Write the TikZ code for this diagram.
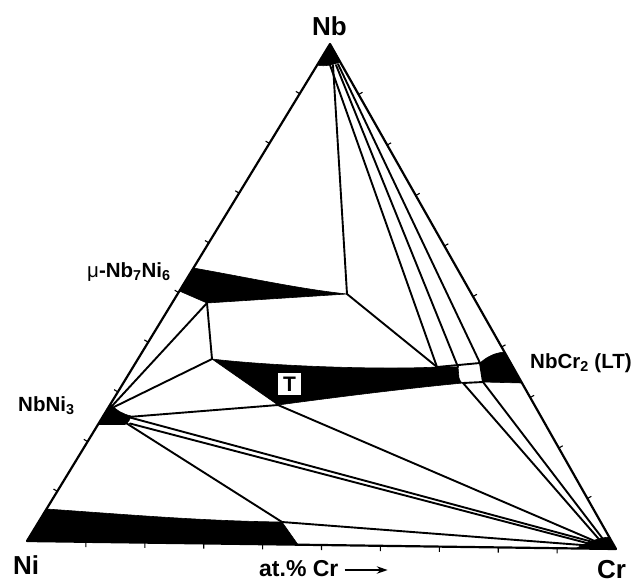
\documentclass[tikz,border=0pt]{standalone}
\usepackage{fontspec}
\setmainfont{Liberation Sans}
\usetikzlibrary{calc,arrows.meta}
\begin{document}
\begin{tikzpicture}[x=1pt,y=-1pt,
  tie/.style={line width=1.9pt, line cap=round, line join=round},
  phase/.style={fill=black, draw=black, line width=0.6pt, line join=round},
  edge/.style={line width=2.2pt, line join=round},
  tickmark/.style={line width=1.1pt},
  lbl/.style={font=\bfseries, inner sep=0pt, anchor=base west},
]
\useasboundingbox (0,0) rectangle (634,582);

% corners of the Gibbs triangle
\coordinate (Ni) at (27,541);
\coordinate (Cr) at (616,549);
\coordinate (Nb) at (330,44);

% invariant points and phase-field corners
\coordinate (P)  at (347,294);   % tip of mu field
\coordinate (M1) at (193.4,268);
\coordinate (M2) at (179.4,291);
\coordinate (M3) at (207,303);
\coordinate (P2) at (212,359);   % left tip of T field
\coordinate (U)  at (278,405);   % lower tip of T field
\coordinate (Q)  at (437,367);
\coordinate (R)  at (458,367);
\coordinate (S)  at (480,363);
\coordinate (X)  at (463,383);
\coordinate (Y)  at (483,382);
\coordinate (V)  at (282,522);
\coordinate (W)  at (298,544.7);
\coordinate (CrIn) at (604,545);

% tie lines from the Nb corner
\draw[tie] (333,65) -- (P);
\draw[tie] (330,65) -- (Q);
\draw[tie] (336,65) -- (R);
\draw[tie] (338,64) -- (S);

% mu field boundaries
\draw[tie] (M3) -- (P2);
\draw[tie] (P) -- (Q);

% lines from NbNi3
\draw[tie] (112,406) -- (M3);
\draw[tie] (114,407) -- (P2);
\draw[tie] (128,417) -- (U);
\draw[tie] (130,417.5) -- (CrIn);
\draw[tie] (130,423.5) -- (604,547.5);
\draw[tie] (126,423) -- (V);

% lines into the Cr corner
\draw[tie] (U) -- (CrIn);
\draw[tie] (V) -- (595,546);
\draw[tie] (X) -- (CrIn);
\draw[tie] (Y) -- (606,543);

% small two-phase window between T and NbCr2
\draw[tie] (Q) -- (S) -- (Y) -- (X);

% single-phase fields
\fill[phase] (Nb) -- (317.2,65) .. controls (325,67) and (333,64.5) .. (340.2,62) -- cycle;
\fill[phase] (M1) .. controls (250,278) and (300,289) .. (P) -- (M3) -- (M2) -- cycle;
\fill[phase] (P2) .. controls (270,366) and (380,370) .. (Q) -- (R)
   -- (459,378) .. controls (460,381) and (461,383) .. (X)
   .. controls (400,389) and (330,398) .. (U) -- cycle;
\fill[phase] (S) .. controls (488,356) and (495,353) .. (504.4,352) -- (522,383) -- (Y) -- cycle;
\fill[phase] (110.5,404) .. controls (117,411) and (123,414) .. (131,416)
   .. controls (130,419) and (129,422) .. (125,424.5) -- (98,424.5) -- cycle;
\fill[phase] (Ni) -- (46.5,509) .. controls (120,514) and (200,521) .. (V) -- (W) -- cycle;
\fill[phase] (576,548.5) .. controls (588,542) and (598,538) .. (609.2,537) -- (Cr) -- cycle;

% triangle and its scale marks
\draw[edge] (Ni) -- (Nb) -- (Cr) -- cycle;
\foreach \k in {1,...,9} {
  \draw[tickmark] ($(Ni)!\k/10!(Nb)$) -- ++(-3.8,-2.3);
  \draw[tickmark] ($(Cr)!\k/10!(Nb)$) -- ++(3.9,-2.2);
  \draw[tickmark] ($(Ni)!\k/10!(Cr)$) -- ++(0.05,5.2);
}

% labels
\node[lbl, font=\bfseries\fontsize{26}{26}\selectfont] (lNb) at (312,35) {Nb};
\node[lbl, font=\bfseries\fontsize{26}{26}\selectfont] (lNi) at (13,574) {Ni};
\node[lbl, font=\bfseries\fontsize{26}{26}\selectfont] (lCr) at (597,578) {Cr};
\node[lbl, font=\bfseries\fontsize{23}{23}\selectfont] (lat) at (259,576) {at.\% Cr};
\draw[line width=1.4pt, -{Stealth[length=11pt,width=7.5pt]}] ($(lat.base east)+(6,-6)$) -- ++(43,0);
\node[lbl, font=\bfseries\fontsize{20.5}{20.5}\selectfont] (lmu) at (87,277)
  {{\mdseries μ}-Nb\textsubscript{7}Ni\textsubscript{6}};
\node[lbl, font=\bfseries\fontsize{20.5}{20.5}\selectfont] (lNbNi) at (18,411) {NbNi\textsubscript{3}};
\node[lbl, font=\bfseries\fontsize{20.5}{20.5}\selectfont] (lNbCr) at (530,368) {NbCr\textsubscript{2} (LT)};
\node[draw, line width=1.4pt, fill=white, minimum width=25pt, minimum height=23pt,
      inner sep=0pt, font=\bfseries\fontsize{21}{21}\selectfont] (lT) at (289.5,384) {T};
\end{tikzpicture}
\end{document}
